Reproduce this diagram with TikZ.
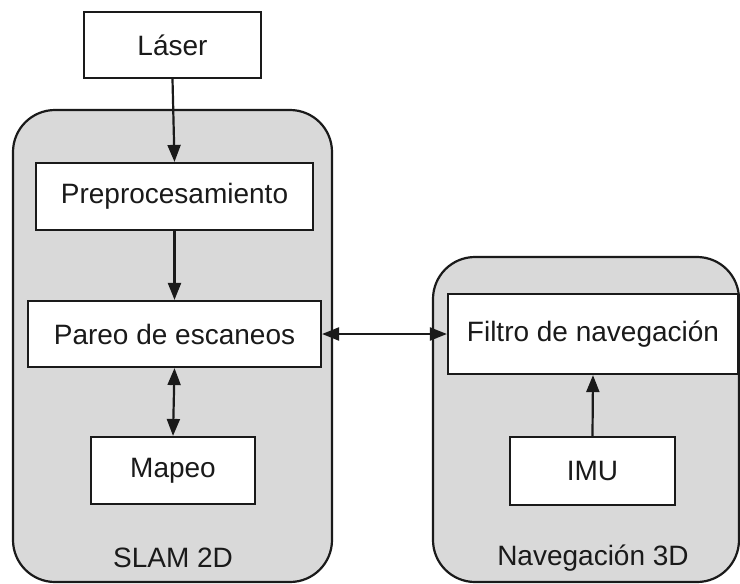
\documentclass[tikz,border=0pt]{standalone}
\usepackage{fontspec}
\setmainfont{Liberation Sans}
\usetikzlibrary{arrows.meta}
\definecolor{contgray}{HTML}{D9D9D9}
\definecolor{inkc}{HTML}{1A1A1A}
\begin{document}
\begin{tikzpicture}[x=1pt,y=-1pt,
  every node/.style={font=\fontsize{28}{32}\selectfont, text=inkc},
  box/.style={draw=inkc, line width=2.2pt, fill=white, inner sep=0pt, rectangle},
  container/.style={draw=inkc, line width=2.2pt, fill=contgray, rounded corners=42pt, inner sep=0pt, rectangle},
  conn/.style={draw=inkc, line width=2.2pt, -{Triangle[length=17pt,width=13pt]}},
  bconn/.style={draw=inkc, line width=2.2pt, {Triangle[length=17pt,width=13pt]}-{Triangle[length=17pt,width=13pt]}}
]
\useasboundingbox (0,0) rectangle (740,584);
\node[container, minimum width=319pt, minimum height=472pt] (slam) at (172.5,346) {};
\node[container, minimum width=306pt, minimum height=325pt] (nav) at (586,419.5) {};
\node[box, minimum width=177pt, minimum height=66pt] (laser) at (172.5,45) {Láser};
\node[box, minimum width=277pt, minimum height=67pt] (prep) at (174.5,196.5) {Preprocesamiento};
\node[box, minimum width=293pt, minimum height=66pt] (pareo) at (174.5,334) {Pareo de escaneos};
\node[box, minimum width=164pt, minimum height=67pt] (mapeo) at (173,470.5) {Mapeo};
\node[box, minimum width=290pt, minimum height=80pt] (filtro) at (593,334) {Filtro de navegación};
\node[box, minimum width=165pt, minimum height=68pt] (imu) at (592.5,471) {IMU};
\node (slamlabel) at (173,558) {SLAM 2D};
\node (navlabel) at (593,558) {Navegación 3D};
\draw[conn] (laser.south) -- (prep.north);
\draw[conn] (prep.south) -- (pareo.north);
\draw[bconn] (pareo.south) -- (mapeo.north);
\draw[bconn] (pareo.east) -- (filtro.west);
\draw[conn] (imu.north) -- (filtro.south);
\end{tikzpicture}
\end{document}
